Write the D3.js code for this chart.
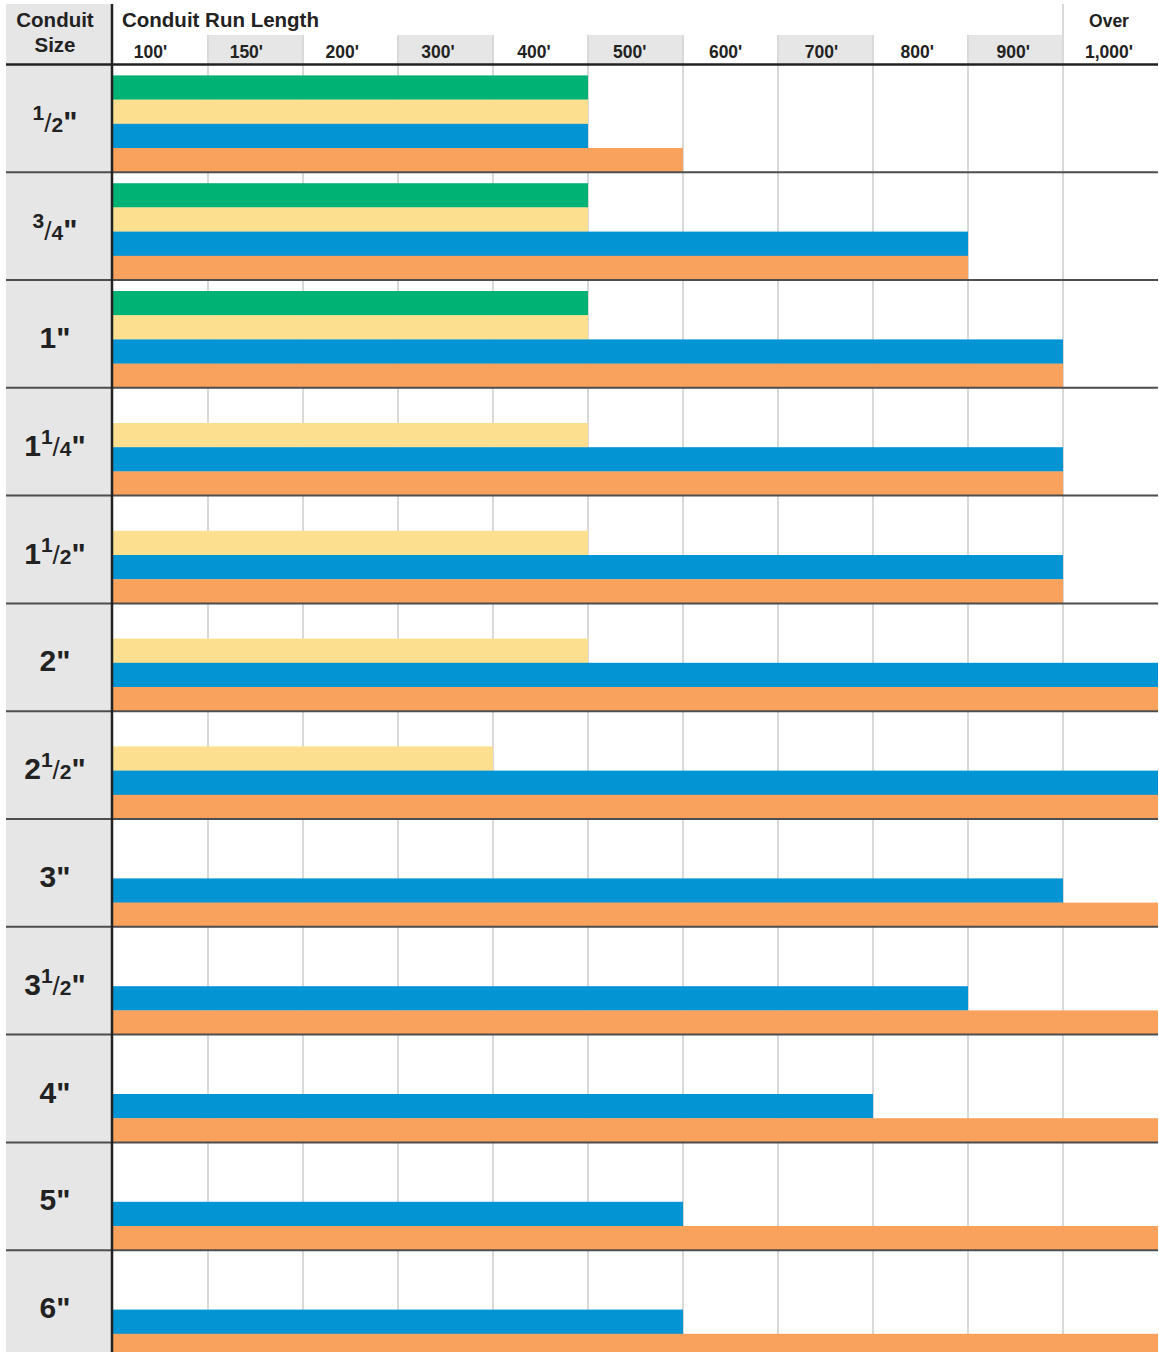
<!DOCTYPE html>
<html>
<head>
    <title>Conduit Run Length</title>
    <script src="https://d3js.org/d3.v7.min.js" charset="utf-8"></script>
    <style>
        body { margin: 0; background: #fff; }
        svg { display: block; overflow: hidden; }
        text { font-family: "Liberation Sans", Arial, sans-serif; font-weight: bold; fill: #222; }
    </style>
</head>
<body>
    <script>
        // column headings (run length bins)
        var columns = ["100'", "150'", "200'", "300'", "400'", "500'", "600'", "700'", "800'", "900'", "Over 1,000'"];
        var shaded = ["150'", "300'", "500'", "700'", "900'"];

        // conduit sizes (rows)
        var sizes = ["1/2\"", "3/4\"", "1\"", "1 1/4\"", "1 1/2\"", "2\"", "2 1/2\"", "3\"", "3 1/2\"", "4\"", "5\"", "6\""];

        // each bar runs to the end of the named column
        var green  = ["400'", "400'", "400'", null, null, null, null, null, null, null, null, null];
        var yellow = ["400'", "400'", "400'", "400'", "400'", "400'", "300'", null, null, null, null, null];
        var blue   = ["400'", "800'", "900'", "900'", "900'", "Over 1,000'", "Over 1,000'", "900'", "800'", "700'", "500'", "500'"];
        var orange = ["500'", "800'", "900'", "900'", "900'", "Over 1,000'", "Over 1,000'", "Over 1,000'", "Over 1,000'", "Over 1,000'", "Over 1,000'", "Over 1,000'"];

        var seriesNames = ["green", "yellow", "blue", "orange"];
        var seriesColors = ["#00b274", "#fce08f", "#0394d4", "#f9a25e"];
        var seriesData = [green, yellow, blue, orange];

        var w = 1159;
        var h = 1352;
        var left = 113;
        var right = 1158;
        var headTop = 4;
        var headBottom = 64.4;
        var rowH = 107.8;

        var svg = d3.select("body").append("svg").attr("width", w).attr("height", h);

        var x = d3.scaleBand().domain(columns).range([left, right]);
        var y = d3.scaleBand().domain(sizes).range([headBottom, headBottom + rowH * sizes.length]);
        var slot = d3.scaleBand().domain(seriesNames).range([11, rowH]);

        // left gray column
        svg.append("rect")
            .attr("x", 6).attr("y", headTop)
            .attr("width", left - 6).attr("height", h - headTop)
            .attr("fill", "#e6e6e6");

        // shaded header cells
        svg.selectAll("rect.shade")
            .data(shaded)
            .enter()
            .append("rect")
            .attr("class", "shade")
            .attr("x", function (d) { return x(d); })
            .attr("y", 35)
            .attr("width", x.bandwidth())
            .attr("height", headBottom - 35)
            .attr("fill", "#e6e6e6");

        // vertical grid lines
        svg.selectAll("line.grid")
            .data(columns.slice(1))
            .enter()
            .append("line")
            .attr("class", "grid")
            .attr("x1", function (d) { return x(d); })
            .attr("x2", function (d) { return x(d); })
            .attr("y1", function (d) { return d === "Over 1,000'" ? headTop : 35; })
            .attr("y2", h)
            .attr("stroke", "#d9d9d9")
            .attr("stroke-width", 2);

        // bars
        seriesNames.forEach(function (name, k) {
            var vals = seriesData[k];
            svg.selectAll("rect.bar-" + name)
                .data(sizes.map(function (s, i) { return { size: s, value: vals[i] }; }).filter(function (d) { return d.value; }))
                .enter()
                .append("rect")
                .attr("class", "bar-" + name)
                .attr("x", left)
                .attr("y", function (d) { return y(d.size) + slot(name); })
                .attr("width", function (d) { return x(d.value) + x.bandwidth() - left; })
                .attr("height", slot.bandwidth() + 0.3)
                .attr("fill", seriesColors[k]);
        });

        // row separators
        svg.selectAll("line.row")
            .data(sizes.slice(1))
            .enter()
            .append("line")
            .attr("class", "row")
            .attr("x1", 6).attr("x2", right)
            .attr("y1", function (d) { return y(d); })
            .attr("y2", function (d) { return y(d); })
            .attr("stroke", "#4d4d4d")
            .attr("stroke-width", 2);

        // header bottom rule
        svg.append("line")
            .attr("x1", 6).attr("x2", right)
            .attr("y1", headBottom).attr("y2", headBottom)
            .attr("stroke", "#222").attr("stroke-width", 2.5);

        // heavy vertical rule
        svg.append("line")
            .attr("x1", 112).attr("x2", 112)
            .attr("y1", headTop).attr("y2", h)
            .attr("stroke", "#222").attr("stroke-width", 2.5);

        // header texts
        svg.append("text").attr("x", 55).attr("y", 27).attr("text-anchor", "middle")
            .style("font-size", "20.5px").text("Conduit");
        svg.append("text").attr("x", 55).attr("y", 52).attr("text-anchor", "middle")
            .style("font-size", "20.5px").text("Size");
        svg.append("text").attr("x", 122).attr("y", 27)
            .style("font-size", "20.5px").text("Conduit Run Length");

        svg.selectAll("text.col")
            .data(columns)
            .enter()
            .append("text")
            .attr("class", "col")
            .attr("x", function (d, i) { return x(d) + x.bandwidth() / 2 - 10 + i * 0.85; })
            .attr("y", 58)
            .attr("text-anchor", "middle")
            .style("font-size", "17.5px")
            .each(function (d) {
                var parts = d.split(" ");
                if (parts.length > 1) {
                    d3.select(this).append("tspan").attr("x", d3.select(this).attr("x")).attr("y", 27).text(parts[0]);
                    d3.select(this).append("tspan").attr("x", d3.select(this).attr("x")).attr("y", 58).text(parts[1]);
                } else {
                    d3.select(this).text(d);
                }
            });

        // size labels, fractions drawn with raised numerator
        svg.selectAll("text.size")
            .data(sizes)
            .enter()
            .append("text")
            .attr("class", "size")
            .attr("x", 55)
            .attr("y", function (d) { return y(d) + rowH / 2 + 14; })
            .attr("text-anchor", "middle")
            .style("font-size", "30px")
            .each(function (d) {
                var t = d3.select(this);
                var s = d.replace("\"", "");
                var parts = s.split(" ");
                var whole = null, frac = null;
                if (parts.length === 2) { whole = parts[0]; frac = parts[1]; }
                else if (s.indexOf("/") >= 0) { frac = s; }
                else { whole = s; }
                if (whole) t.append("tspan").text(whole);
                if (frac) {
                    var nd = frac.split("/");
                    t.append("tspan").attr("dy", -12).style("font-size", "21px").text(nd[0]);
                    t.append("tspan").attr("dy", 12).style("font-size", "26px").style("font-weight", "normal").text("/");
                    t.append("tspan").style("font-size", "21px").text(nd[1]);
                }
                t.append("tspan").text("\"");
            });
    </script>
</body>
</html>
